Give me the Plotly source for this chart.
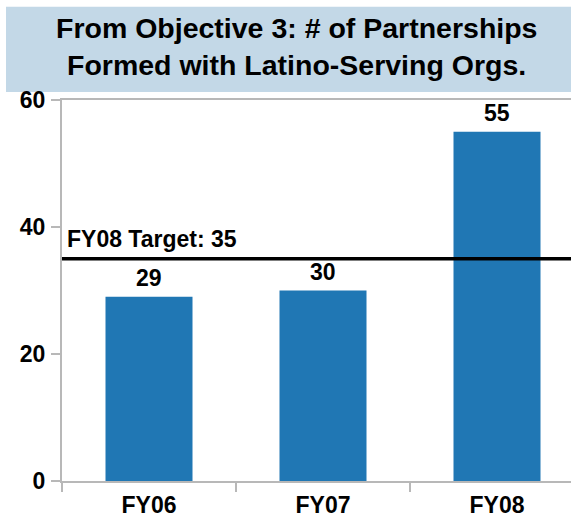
import plotly.graph_objects as go

# ---- data ----
categories = ["FY06", "FY07", "FY08"]
values = [29, 30, 55]
target_value = 35
target_label = "FY08 Target: 35"
title_lines = ["From Objective 3: # of Partnerships", "Formed with Latino-Serving Orgs."]
y_ticks = [0, 20, 40, 60]

# ---- layout constants ----
W, H = 571, 518
ML, MR, MT, MB = 62, 0, 100, 34
PW, PH = W - ML - MR, H - MT - MB
CAT_PX = 174.0


def fx(px):
    return (px - ML) / PW


def fy(py):
    return (H - MB - py) / PH


FONT = "Liberation Sans, Arial, sans-serif"
AX = "#b8b8b8"

fig = go.Figure(
    go.Bar(
        x=categories,
        y=values,
        width=0.5,
        marker=dict(color="#2077b4", line=dict(width=0)),
        hoverinfo="skip",
    )
)

annotations = []
for c, v in zip(categories, values):
    annotations.append(dict(
        x=c, y=v, xref="x", yref="y", text=str(v), showarrow=False,
        yanchor="bottom", yshift=4,
        font=dict(family=FONT, size=23, color="black", weight="bold"),
    ))

annotations.append(dict(
    x=fx(65), y=target_value, xref="paper", yref="y", text=target_label,
    showarrow=False, xanchor="left", yanchor="bottom", yshift=5,
    font=dict(family=FONT, size=23, color="black", weight="bold"),
))

title_centers = [27.5, 64.5]
for line, cy in zip(title_lines, title_centers):
    annotations.append(dict(
        x=fx(296), y=fy(cy), xref="paper", yref="paper", text=line,
        showarrow=False, xanchor="center", yanchor="middle",
        font=dict(family=FONT, size=28.5, color="black", weight="bold"),
    ))

shapes = [
    dict(type="rect", xref="paper", yref="paper", x0=fx(6), x1=fx(571),
         y0=fy(92), y1=fy(6), fillcolor="#c3d8e7", line=dict(width=0),
         layer="below"),
    dict(type="line", xref="paper", yref="y", x0=0, x1=1,
         y0=target_value, y1=target_value, line=dict(color="black", width=3.5)),
]

fig.update_layout(
    width=W, height=H,
    margin=dict(l=ML, r=MR, t=MT, b=MB, pad=0),
    paper_bgcolor="white", plot_bgcolor="white",
    showlegend=False,
    annotations=annotations,
    shapes=shapes,
    xaxis=dict(
        type="category", range=[-0.5, -0.5 + PW / CAT_PX],
        tickson="boundaries", ticks="outside", ticklen=9, tickwidth=2,
        tickcolor=AX, showline=True, linecolor=AX, linewidth=2, mirror=True,
        showgrid=False, zeroline=False, ticklabelstandoff=2,
        tickfont=dict(family=FONT, size=23, color="black", weight="bold"),
    ),
    yaxis=dict(
        range=[0, 60], tickvals=y_ticks, ticks="outside", ticklen=9,
        tickwidth=2, tickcolor=AX, showline=True, linecolor=AX, linewidth=2,
        showgrid=False, zeroline=False, ticklabelstandoff=1,
        tickfont=dict(family=FONT, size=23, color="black", weight="bold"),
    ),
)

fig.write_html(
    "out.html",
    config={"displayModeBar": False},
    post_script="document.body.style.margin='0';document.body.style.padding='0';",
)
